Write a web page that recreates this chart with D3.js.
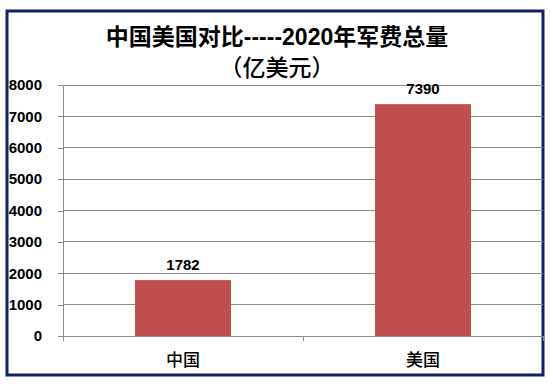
<!DOCTYPE html>
<html>
<head>
<meta charset="utf-8">
<script src="https://cdn.jsdelivr.net/npm/d3@7"></script>
<style>
  body { margin: 0; background: #fff; }
  svg { display: block; }
</style>
</head>
<body>
<div id="chart"></div>
<script>
var categories = ["中国", "美国"];
var values = [1782, 7390];
var yTicks = [0, 1000, 2000, 3000, 4000, 5000, 6000, 7000, 8000];

var width = 553, height = 386;
var margin = { left: 63, right: 10, top: 85, bottom: 50 };

var svg = d3.select("#chart").append("svg")
    .attr("width", width)
    .attr("height", height);

// outer frame
svg.append("rect")
    .attr("x", 7).attr("y", 11)
    .attr("width", 536).attr("height", 364)
    .attr("fill", "#fff")
    .attr("stroke", "#0d2260")
    .attr("stroke-width", 3);

var x = d3.scaleBand()
    .domain(categories)
    .range([margin.left, width - margin.right])
    .paddingInner(0.6)
    .paddingOuter(0.3);

var y = d3.scaleLinear()
    .domain([0, 8000])
    .range([height - margin.bottom, margin.top]);

// gridlines
svg.append("g")
    .selectAll("line")
    .data(yTicks)
    .enter().append("line")
    .attr("x1", margin.left)
    .attr("x2", width - margin.right)
    .attr("y1", function(d) { return y(d); })
    .attr("y2", function(d) { return y(d); })
    .attr("stroke", "#8c8c8c")
    .attr("stroke-width", 1)
    .attr("shape-rendering", "crispEdges");

// y axis
var yAxis = svg.append("g")
    .attr("transform", "translate(" + margin.left + ",0)")
    .call(d3.axisLeft(y).tickValues(yTicks).tickFormat(d3.format("d")).tickSize(5).tickPadding(16));
yAxis.select(".domain").attr("stroke", "#8c8c8c").attr("shape-rendering", "crispEdges");
yAxis.selectAll(".tick line").attr("stroke", "#8c8c8c").attr("shape-rendering", "crispEdges");
yAxis.selectAll("text")
    .attr("fill", "#000")
    .style("font", "bold 15px 'Liberation Sans', Arial, sans-serif");

// x axis: ticks between categories
var xAxisG = svg.append("g")
    .attr("transform", "translate(0," + y(0) + ")");
xAxisG.selectAll("line.sep")
    .data([margin.left, (margin.left + width - margin.right) / 2, width - margin.right])
    .enter().append("line")
    .attr("class", "sep")
    .attr("x1", function(d) { return d; })
    .attr("x2", function(d) { return d; })
    .attr("y1", 0).attr("y2", 5)
    .attr("stroke", "#8c8c8c")
    .attr("shape-rendering", "crispEdges");

// bars
svg.append("g")
    .selectAll("rect")
    .data(values)
    .enter().append("rect")
    .attr("x", function(d, i) { return x(categories[i]); })
    .attr("y", function(d) { return y(d); })
    .attr("width", x.bandwidth())
    .attr("height", function(d) { return y(0) - y(d); })
    .attr("fill", "#c0504d");

// value labels
svg.append("g")
    .selectAll("text")
    .data(values)
    .enter().append("text")
    .attr("x", function(d, i) { return x(categories[i]) + x.bandwidth() / 2; })
    .attr("y", function(d) { return y(d) - 10; })
    .attr("text-anchor", "middle")
    .style("font", "bold 15px 'Liberation Sans', Arial, sans-serif")
    .text(function(d) { return d; });

// category labels
svg.append("g")
    .selectAll("text")
    .data(categories)
    .enter().append("text")
    .attr("x", function(d) { return x(d) + x.bandwidth() / 2; })
    .attr("y", y(0) + 30)
    .attr("text-anchor", "middle")
    .style("font", "500 17px 'Noto Sans CJK SC', sans-serif")
    .text(function(d) { return d; });

// title
var title = svg.append("text")
    .attr("x", 277)
    .attr("text-anchor", "middle")
    .style("font", "bold 23px 'Liberation Sans', 'Noto Sans CJK SC', sans-serif");
title.append("tspan").attr("x", 277).attr("y", 45).text("中国美国对比-----2020年军费总量");
title.append("tspan").attr("x", 277).attr("y", 76).style("font-weight", "500").text("（亿美元）");
</script>
</body>
</html>
